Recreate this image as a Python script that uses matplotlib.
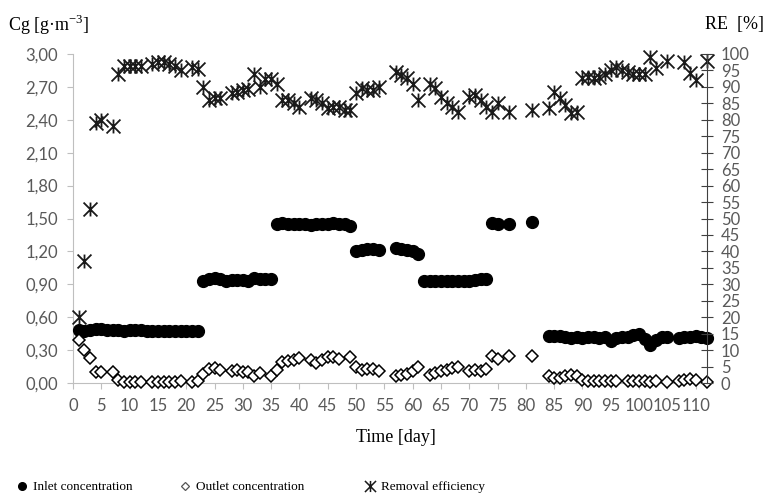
import numpy as np
import matplotlib.pyplot as plt
from matplotlib.lines import Line2D
from matplotlib.path import Path

# Inlet concentration [g/m3]
inlet_day = [1, 2, 3, 4, 5, 6, 7, 8, 9, 10, 11, 12, 13, 14, 15, 16, 17, 18, 19, 20, 21, 22,
             23, 24, 25, 26, 27, 28, 29, 30, 31, 32, 33, 34, 35,
             36, 37, 38, 39, 40, 41, 42, 43, 44, 45, 46, 47, 48, 49,
             50, 51, 52, 53, 54,
             57, 58, 59, 60, 61,
             62, 63, 64, 65, 66, 67, 68, 69, 70, 71, 72, 73,
             74, 75, 77, 81,
             84, 85, 86, 87, 88, 89, 90, 91, 92, 93, 94, 95, 96, 97, 98, 99, 100,
             101, 102, 103, 104, 105, 107, 108, 109, 110, 111, 112]
inlet_cg = [0.48, 0.47, 0.48, 0.49, 0.49, 0.48, 0.48, 0.48, 0.47, 0.48, 0.48, 0.48, 0.47, 0.47, 0.47, 0.47, 0.47, 0.47, 0.47, 0.47, 0.47, 0.47,
            0.93, 0.95, 0.96, 0.95, 0.93, 0.94, 0.94, 0.94, 0.93, 0.96, 0.95, 0.95, 0.95,
            1.45, 1.46, 1.45, 1.45, 1.45, 1.45, 1.44, 1.45, 1.45, 1.45, 1.46, 1.45, 1.45, 1.43,
            1.20, 1.21, 1.22, 1.22, 1.21,
            1.23, 1.22, 1.21, 1.20, 1.18,
            0.93, 0.93, 0.93, 0.93, 0.93, 0.93, 0.93, 0.93, 0.93, 0.94, 0.95, 0.95,
            1.46, 1.45, 1.45, 1.47,
            0.43, 0.43, 0.43, 0.42, 0.41, 0.42, 0.41, 0.42, 0.42, 0.41, 0.42, 0.38, 0.41, 0.42, 0.42, 0.44, 0.45,
            0.40, 0.35, 0.39, 0.42, 0.42, 0.41, 0.42, 0.42, 0.43, 0.42, 0.41]

# Outlet concentration [g/m3]
outlet_day = [1, 2, 3, 4, 5, 7, 8, 9, 10, 11, 12, 14, 15, 16, 17, 18, 19, 21, 22,
              23, 24, 25, 26, 28, 29, 30, 31, 32, 33, 35, 36, 37, 38, 39, 40,
              42, 43, 44, 45, 46, 47, 49, 50, 51, 52, 53, 54,
              57, 58, 59, 60, 61, 63, 64, 65, 66, 67, 68, 70, 71, 72, 73,
              74, 75, 77, 81, 84, 85, 86, 87, 88, 89,
              90, 91, 92, 93, 94, 95, 96, 98, 99, 100, 101, 102, 103, 105,
              107, 108, 109, 110, 112]
outlet_cg = [0.39, 0.30, 0.23, 0.10, 0.10, 0.10, 0.03, 0.01, 0.01, 0.01, 0.01, 0.01, 0.01, 0.01, 0.01, 0.01, 0.02, 0.01, 0.02,
             0.08, 0.13, 0.14, 0.12, 0.11, 0.12, 0.10, 0.10, 0.06, 0.09, 0.06, 0.12, 0.19, 0.20, 0.21, 0.23,
             0.21, 0.18, 0.21, 0.24, 0.24, 0.22, 0.24, 0.15, 0.12, 0.13, 0.13, 0.11,
             0.06, 0.07, 0.08, 0.11, 0.15, 0.07, 0.09, 0.11, 0.12, 0.14, 0.15, 0.11, 0.12, 0.11, 0.13,
             0.25, 0.22, 0.25, 0.25, 0.06, 0.05, 0.05, 0.06, 0.07, 0.06,
             0.03, 0.02, 0.02, 0.02, 0.02, 0.02, 0.02, 0.02, 0.02, 0.02, 0.02, 0.01, 0.02, 0.01,
             0.02, 0.03, 0.04, 0.03, 0.01]

# Removal efficiency [%]
re_day = [1, 2, 3, 4, 5, 7, 8, 9, 10, 11, 12, 14, 15, 16, 17, 18, 19, 21, 22,
          23, 24, 25, 26, 28, 29, 30, 31, 32, 33, 34, 35, 36, 37, 38, 39, 40,
          42, 43, 44, 45, 46, 47, 48, 49, 50, 51, 52, 53, 54,
          57, 58, 59, 60, 61, 63, 64, 65, 66, 67, 68, 70, 71, 72, 73,
          74, 75, 77, 81, 84, 85, 86, 87, 88, 89,
          90, 91, 92, 93, 94, 95, 96, 97, 98, 99, 100, 101, 102, 103, 105,
          108, 109, 110, 112]
re_val = [20, 37, 53, 79, 80, 78, 94, 96.5, 96.5, 96.5, 96.5, 97, 97.5, 97.7, 97, 96.5, 95, 96, 95.5,
          90, 86, 86.5, 86.5, 88, 88.5, 89, 89.5, 94, 90, 92.5, 92.5, 91, 86, 86, 85, 84,
          86.5, 86, 85, 83.5, 84, 84, 83, 83, 88, 89.6, 89, 89, 90,
          94.6, 93.6, 92.6, 91, 86, 91, 89.6, 87, 85, 84, 82.5, 87, 87.5, 86, 84,
          82.5, 85, 82.5, 83, 83.5, 88.6, 86.5, 84.5, 82, 82.5,
          92.6, 93, 92.6, 93, 94, 95, 96, 95, 94.6, 94, 94, 94, 99.2, 95.6, 98,
          97.7, 94.1, 92, 98]

cg_ticks = np.arange(0, 3.01, 0.3)
re_ticks = np.arange(0, 101, 5)
day_ticks = np.arange(0, 111, 5)

grey = '#595959'
axis_grey = '#bfbfbf'
serif = 'Liberation Serif'
sans = 'Lato'

# Excel style star: an X with a vertical bar
star = Path([(-1, -1), (1, 1), (-1, 1), (1, -1), (0, -1), (0, 1)],
            [Path.MOVETO, Path.LINETO] * 3)

fig = plt.figure(figsize=(7.69, 4.99), dpi=100)
ax = fig.add_axes([73 / 769, 1 - 383 / 499, (707 - 73) / 769, (383 - 54) / 499])
ax2 = ax.twinx()

ax.plot(inlet_day, inlet_cg, 'o', color='black', ms=8.5, clip_on=False, zorder=3)
ax.plot(outlet_day, outlet_cg, 'D', mfc='white', mec='black', mew=1.1, ms=6.3, clip_on=False, zorder=3)
ax2.plot(re_day, re_val, marker=star, ls='none', color='#1a1a1a', ms=10, mew=1.3, clip_on=False)

ax.set_xlim(0, 112)
ax.set_ylim(0, 3.0)
ax2.set_ylim(0, 100)

ax.set_xticks(day_ticks)
ax.set_xticklabels([str(d) for d in day_ticks])
ax.set_yticks(cg_ticks)
ax.set_yticklabels([f'{v:.2f}'.replace('.', ',') for v in cg_ticks])
ax2.set_yticks(re_ticks)

for s in ['top', 'right']:
    ax.spines[s].set_visible(False)
for s in ['top', 'left', 'bottom']:
    ax2.spines[s].set_visible(False)
ax.spines['left'].set_color(axis_grey)
ax.spines['bottom'].set_color(axis_grey)
ax2.spines['right'].set_color('#404040')

ax.tick_params(axis='both', colors=axis_grey, labelcolor=grey, labelsize=12, length=4, direction='out', pad=7)
ax2.tick_params(axis='y', colors='#404040', labelcolor=grey, labelsize=12, length=8, direction='inout', pad=6)
for lab in ax.get_xticklabels() + ax.get_yticklabels() + ax2.get_yticklabels():
    lab.set_family(sans)

fig.text(8 / 769, 1 - 25 / 499, 'Cg [g\u00b7m$^{\\mathregular{-3}}$]', fontsize=13, family=serif, va='center', ha='left')
fig.text(705 / 769, 1 - 25 / 499, 'RE  [%]', fontsize=13, family=serif, va='center', ha='left')
fig.text(396 / 769, 1 - 438 / 499, 'Time [day]', fontsize=13, family=serif, va='center', ha='center')

handles = [
    Line2D([], [], marker='o', ls='none', color='black', ms=5.5),
    Line2D([], [], marker='D', ls='none', mfc='white', mec='#555555', ms=4.5, mew=0.9),
    Line2D([], [], marker=star, ls='none', color='#1a1a1a', ms=8, mew=1.1),
]
labels = ['Inlet concentration', 'Outlet concentration', 'Removal efficiency']
marker_x = [22, 185, 370]
for h, l, mx in zip(handles, labels, marker_x):
    fig.legend([h], [l], loc='center left', bbox_to_anchor=((mx - 5.3) / 769, 1 - 487 / 499),
               frameon=False, prop={'family': serif, 'size': 9.5}, handlelength=0.8,
               handletextpad=0.4, borderpad=0, borderaxespad=0)

fig.savefig('out.png', dpi=100, facecolor='white')
